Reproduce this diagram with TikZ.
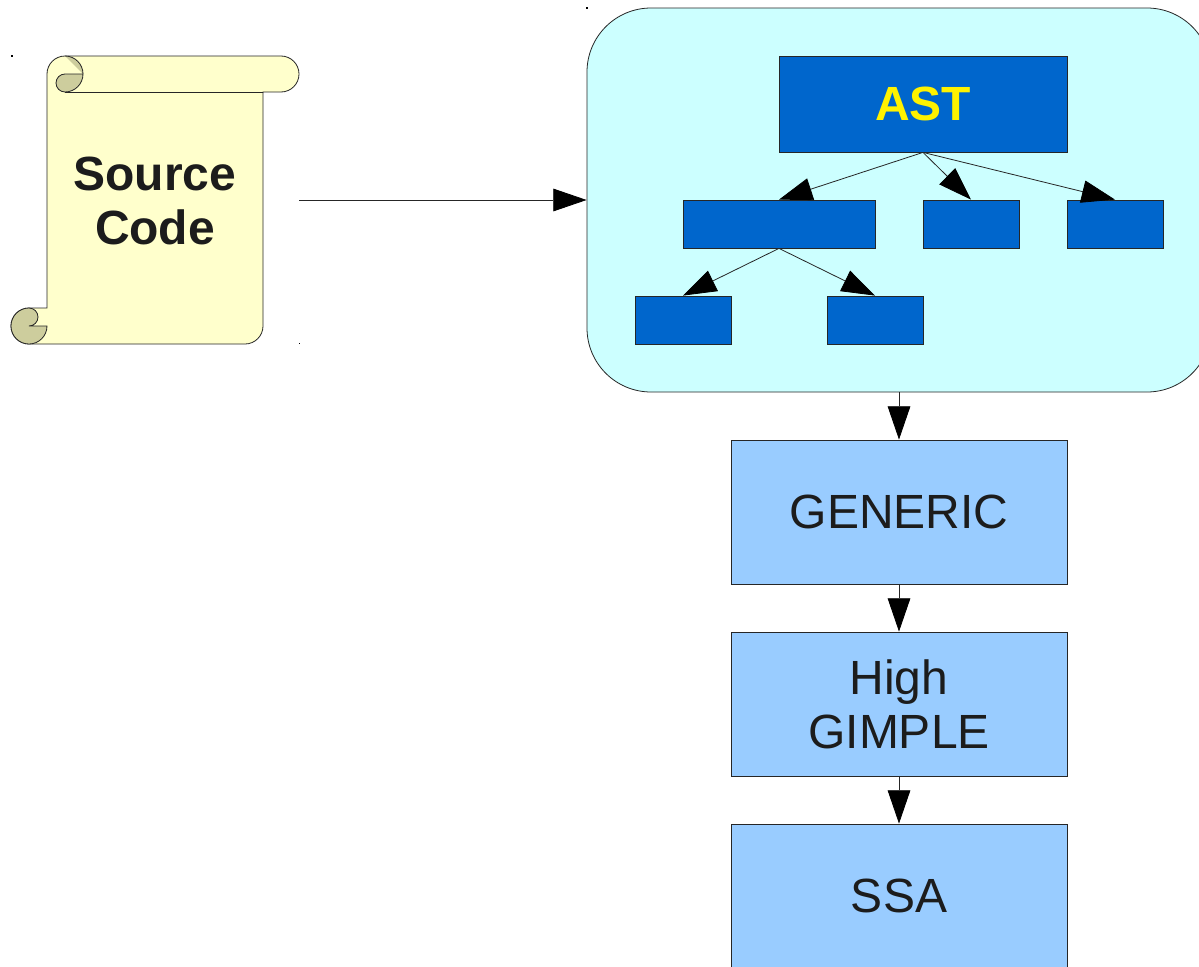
\documentclass[tikz,border=0pt]{standalone}
\usepackage{fontspec}
\setmainfont{Liberation Sans}
\usetikzlibrary{arrows.meta}
\definecolor{scrollfill}{HTML}{FFFFCC}
\definecolor{scrolldark}{HTML}{CDCD9D}
\definecolor{cloudfill}{HTML}{CCFFFF}
\definecolor{deepblue}{HTML}{0066CC}
\definecolor{paleblue}{HTML}{99CCFF}
\definecolor{inktext}{HTML}{1C1C1C}
\tikzset{
  x=0.75pt,y=-0.75pt,
  outline/.style={draw=black!85,line width=0.6pt},
  treebox/.style={outline,fill=deepblue,rectangle,inner sep=0pt,minimum height=36pt},
  stagebox/.style={outline,fill=paleblue,rectangle,inner sep=0pt,minimum width=252pt,minimum height=108pt,
     text=inktext,font=\fontsize{36}{40.5}\selectfont,align=center},
  link/.style={draw=black!85,line width=0.6pt,-{Triangle[length=25pt,width=17pt,color=black]}},
  speck/.style={fill=black,inner sep=0pt,minimum size=0.8pt,rectangle},
}
\begin{document}
\begin{tikzpicture}
\useasboundingbox (0,0) rectangle (1199,967);
\begin{scope}
\clip (0,0) rectangle (1199,967);
% scroll
\path[outline,fill=scrollfill]
  (47,74) arc[start angle=180,end angle=90,radius=18*0.75pt] -- (281,56)
  arc[start angle=90,end angle=-90,radius=18*0.75pt] -- (263,92) -- (263,326)
  arc[start angle=0,end angle=-90,radius=18*0.75pt] -- (29,344)
  arc[start angle=270,end angle=90,radius=18*0.75pt] -- (47,308) -- cycle;
\path[outline,fill=scrolldark]
  (47,326) -- (29,326) arc[start angle=-90,end angle=90,radius=9*0.75pt]
  arc[start angle=90,end angle=270,radius=18*0.75pt]
  arc[start angle=-90,end angle=0,radius=18*0.75pt] -- cycle;
\path[fill=scrolldark] (65,56) arc[start angle=90,end angle=0,radius=18*0.75pt] -- cycle;
\path[outline,fill=scrolldark]
  (83,74) -- (65,74) arc[start angle=90,end angle=270,radius=9*0.75pt]
  arc[start angle=-90,end angle=0,radius=18*0.75pt] -- cycle;
\path[outline] (65,56) arc[start angle=90,end angle=0,radius=18*0.75pt];
\path[outline] (65,92) -- (263,92);
\node[text=inktext,font=\fontsize{36}{40.5}\selectfont\bfseries,align=center,inner sep=0pt] (source) at (155,201) {Source\\Code};
\coordinate (sourceout) at (299,200);
% container
\node[outline,fill=cloudfill,rectangle,rounded corners=48pt,minimum width=468pt,minimum height=288pt,inner sep=0pt] (tree) at (899,200) {};
\node[treebox,minimum width=216pt,minimum height=72pt,text=yellow,font=\fontsize{36}{40.5}\selectfont\bfseries] (ast) at (923,104) {AST};
\node[treebox,minimum width=144pt] (kida) at (779,224) {};
\node[treebox,minimum width=72pt] (kidb) at (971,224) {};
\node[treebox,minimum width=72pt] (kidc) at (1115,224) {};
\node[treebox,minimum width=72pt] (kidd) at (683,320) {};
\node[treebox,minimum width=72pt] (kide) at (875,320) {};
\draw[link] (ast.south) -- (kida.north);
\draw[link] (ast.south) -- (kidb.north);
\draw[link] (ast.south) -- (kidc.north);
\draw[link] (kida.south) -- (kidd.north);
\draw[link] (kida.south) -- (kide.north);
\node[stagebox] (generic) at (899,512) {GENERIC};
\node[stagebox] (high) at (899,704) {High\\GIMPLE};
\node[stagebox] (ssa) at (899,896) {SSA};
\draw[link] (tree.south) -- (generic.north);
\draw[link] (generic.south) -- (high.north);
\draw[link] (high.south) -- (ssa.north);
\draw[link] (sourceout) -- (tree.west);
\node[speck] (da) at (12,56) {};
\node[speck] (db) at (299.5,343.5) {};
\node[speck] (dc) at (587,8) {};
\end{scope}
\end{tikzpicture}
\end{document}
